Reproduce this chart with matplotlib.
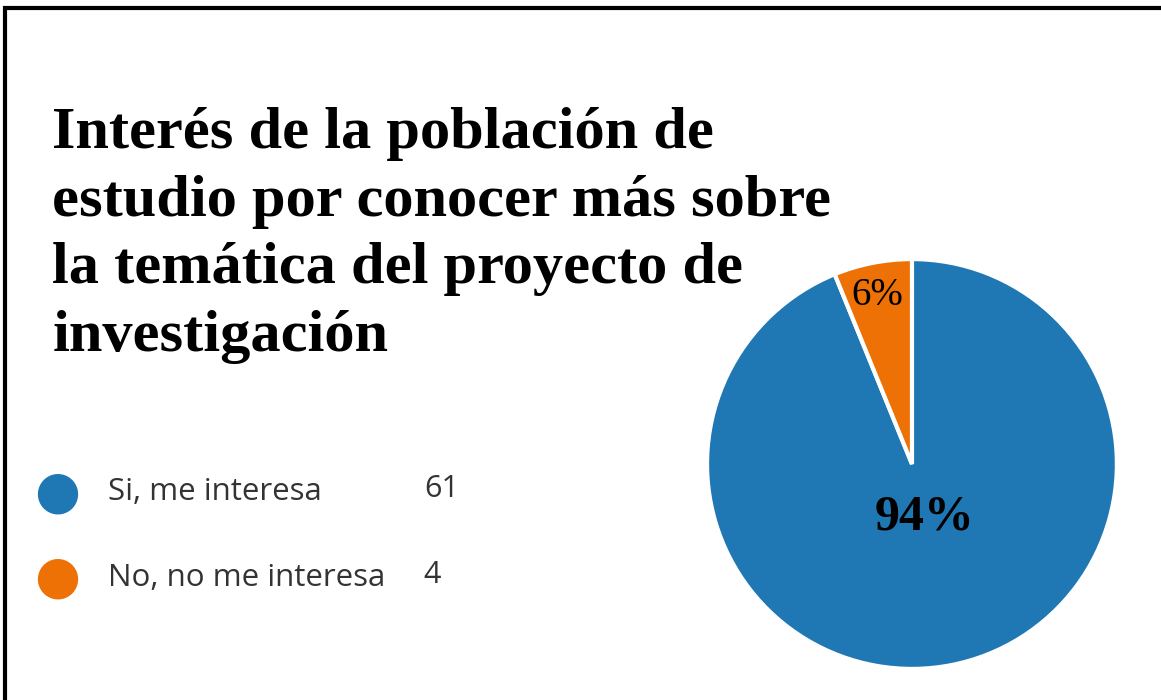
import matplotlib.pyplot as plt
from matplotlib.patches import Rectangle

# survey answers
labels = ['Si, me interesa', 'No, no me interesa']
counts = [61, 4]
colors = ['#1f77b4', '#ee7105']
title = 'Interés de la población de\nestudio por conocer más sobre\nla temática del proyecto de\ninvestigación'

fig = plt.figure(figsize=(11.61, 7), dpi=100)

# black frame (only top and left visible in the original crop)
fig.add_artist(Rectangle((0.0045, -0.05), 1.2, 1.039, transform=fig.transFigure,
                         fill=False, edgecolor='black', linewidth=3))

fig.text(0.045, 0.847, title, fontsize=43.5, fontweight='bold', family='Liberation Serif',
         va='top', ha='left', linespacing=1.33)

# legend drawn by hand
ys = [0.297, 0.175]
for lab, c, col, y in zip(labels, counts, colors, ys):
    fig.text(0.049, y, '\u25CF', color=col, fontsize=38, va='center', ha='center',
             family='DejaVu Sans')
    fig.text(0.093, y, lab, fontsize=22.5, color='#333333', va='center', ha='left',
             family='Open Sans')
    fig.text(0.365, y + 0.004, str(c), fontsize=22, color='#333333', va='center',
             ha='left', family='Open Sans')

ax = fig.add_axes([0.609, 0.0443, 0.353, 0.5857])
wedges, _ = ax.pie(counts, colors=colors, startangle=90, counterclock=False,
                   wedgeprops=dict(edgecolor='white', linewidth=3))
ax.set_aspect('equal')
ax.set_xlim(-1, 1)
ax.set_ylim(-1, 1)

total = sum(counts)
ax.text(0.06, -0.26, f'{round(counts[0] / total * 100)}%', fontsize=36, fontweight='bold',
        family='Liberation Serif', ha='center', va='center')
ax.text(-0.17, 0.82, f'{round(counts[1] / total * 100)}%', fontsize=28,
        family='Liberation Serif', ha='center', va='center')

fig.savefig('out.png', dpi=100)
